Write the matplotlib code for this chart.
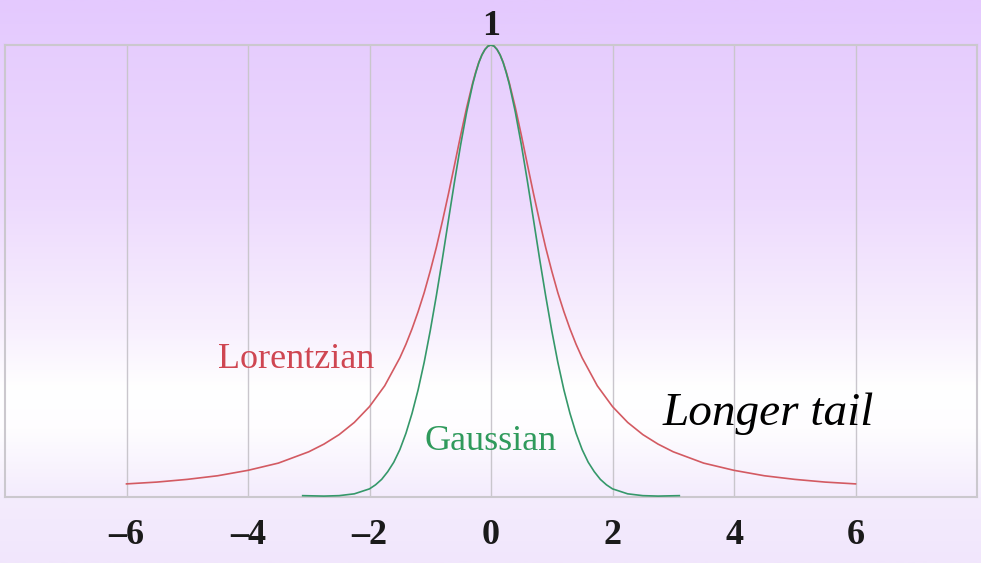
import numpy as np
import matplotlib
matplotlib.use("Agg")
import matplotlib.pyplot as plt
from matplotlib.colors import LinearSegmentedColormap

# Lorentzian line shape, sampled more densely around the peak
lor_x = [-6.0, -5.5, -5.0, -4.5, -4.0, -3.5, -3.0, -2.75, -2.5, -2.25, -2.0, -1.75,
         -1.5, -1.4, -1.3, -1.2, -1.1, -1.0, -0.9, -0.8, -0.7, -0.6, -0.5, -0.4,
         -0.3, -0.25, -0.2, -0.15, -0.1, -0.05, 0.0, 0.05, 0.1, 0.15, 0.2, 0.25, 0.3,
         0.4, 0.5, 0.6, 0.7, 0.8, 0.9, 1.0,
         1.1, 1.2, 1.3, 1.4, 1.5, 1.75, 2.0, 2.25, 2.5, 2.75, 3.0, 3.5, 4.0, 4.5,
         5.0, 5.5, 6.0]
lor_y = [0.029, 0.033, 0.039, 0.047, 0.059, 0.075, 0.100, 0.117, 0.138, 0.165, 0.200, 0.246,
         0.308, 0.338, 0.372, 0.410, 0.452, 0.500, 0.552, 0.610, 0.671, 0.735, 0.800, 0.862,
         0.917, 0.941, 0.962, 0.978, 0.990, 0.9975, 1.000, 0.9975, 0.990, 0.978, 0.962, 0.941,
         0.917, 0.862, 0.800, 0.735, 0.671, 0.610,
         0.552, 0.500, 0.452, 0.410, 0.372, 0.338, 0.308, 0.246, 0.200, 0.165, 0.138, 0.117,
         0.100, 0.075, 0.059, 0.047, 0.039, 0.033, 0.029]

# Gaussian with the same peak height
gau_x = [-3.1, -2.75, -2.5, -2.25, -2.0, -1.9, -1.8, -1.7, -1.6, -1.5, -1.4, -1.3, -1.2,
         -1.1, -1.0, -0.9, -0.8, -0.7, -0.6, -0.5, -0.4, -0.3, -0.25, -0.2, -0.15, -0.1,
         -0.05, 0.0, 0.05, 0.1, 0.15, 0.2, 0.25,
         0.3, 0.4, 0.5, 0.6, 0.7, 0.8, 0.9, 1.0, 1.1, 1.2, 1.3, 1.4, 1.5, 1.6, 1.7, 1.8,
         1.9, 2.0, 2.25, 2.5, 2.75, 3.1]
gau_y = [0.003, 0.002, 0.003, 0.007, 0.018, 0.027, 0.039, 0.056, 0.077, 0.105, 0.141, 0.185,
         0.237, 0.298, 0.368, 0.445, 0.527, 0.613, 0.698, 0.779, 0.852, 0.914, 0.939, 0.961,
         0.978, 0.990, 0.9975, 1.000, 0.9975, 0.990, 0.978, 0.961, 0.939,
         0.914, 0.852, 0.779, 0.698, 0.613, 0.527, 0.445, 0.368, 0.298,
         0.237, 0.185, 0.141, 0.105, 0.077, 0.056, 0.039, 0.027, 0.018, 0.007, 0.003, 0.002,
         0.003]

tick_pos = [-6, -4, -2, 0, 2, 4, 6]
tick_labels = ["\u20136", "\u20134", "\u20132", "0", "2", "4", "6"]

W, H = 981, 563
fig = plt.figure(figsize=(W / 100, H / 100), dpi=100)

# lavender -> white -> lavender background
bg = fig.add_axes([0, 0, 1, 1], zorder=0)
stops = [(0.0, "#e4c9fe"), (45 / H, "#e6cdfe"), (200 / H, "#eddafd"), (330 / H, "#f8f0fe"),
         (390 / H, "#ffffff"), (430 / H, "#fefdff"), (497 / H, "#f4ecfd"), (1.0, "#f1e6fc")]
cmap = LinearSegmentedColormap.from_list("bg", stops)
bg.imshow(np.linspace(0, 1, 512).reshape(-1, 1), cmap=cmap, aspect="auto",
          extent=[0, 1, 0, 1], origin="upper")
bg.axis("off")

ax = fig.add_axes([5 / W, 1 - 497 / H, 972 / W, 452 / H], zorder=1)
ax.set_facecolor("none")
ax.set_xlim(-8, 8)
ax.set_ylim(0, 1)

for x in tick_pos:
    ax.axvline(x, color="#c9c6cc", lw=1.0, zorder=1)
for s in ax.spines.values():
    s.set_color("#cbc8ce")
    s.set_linewidth(1.5)

ax.plot(lor_x, lor_y, color="#d35a62", lw=1.2, zorder=3)
ax.plot(gau_x, gau_y, color="#35986a", lw=1.2, zorder=3)

ax.set_yticks([])
ax.set_xticks(tick_pos)
ax.set_xticklabels(tick_labels, fontfamily="Liberation Serif", fontweight="bold",
                   fontsize=26, color="#1a1a1a")
ax.tick_params(axis="x", length=0, pad=16)

ax.annotate("1", xy=(0, 1), xytext=(0, 7), textcoords="offset points",
            ha="center", va="baseline", fontfamily="Liberation Serif",
            fontweight="bold", fontsize=26, color="#1a1a1a", annotation_clip=False)

ax.text(-3.2, 0.286, "Lorentzian", ha="center", va="baseline",
        fontfamily="Liberation Serif", fontsize=26, color="#cf4652")
ax.text(0, 0.104, "Gaussian", ha="center", va="baseline",
        fontfamily="Liberation Serif", fontsize=26, color="#2f9a5c")
ax.text(4.56, 0.159, "Longer tail", ha="center", va="baseline",
        fontfamily="Liberation Serif", fontstyle="italic", fontsize=34, color="black")

fig.savefig("out.png", dpi=100)
